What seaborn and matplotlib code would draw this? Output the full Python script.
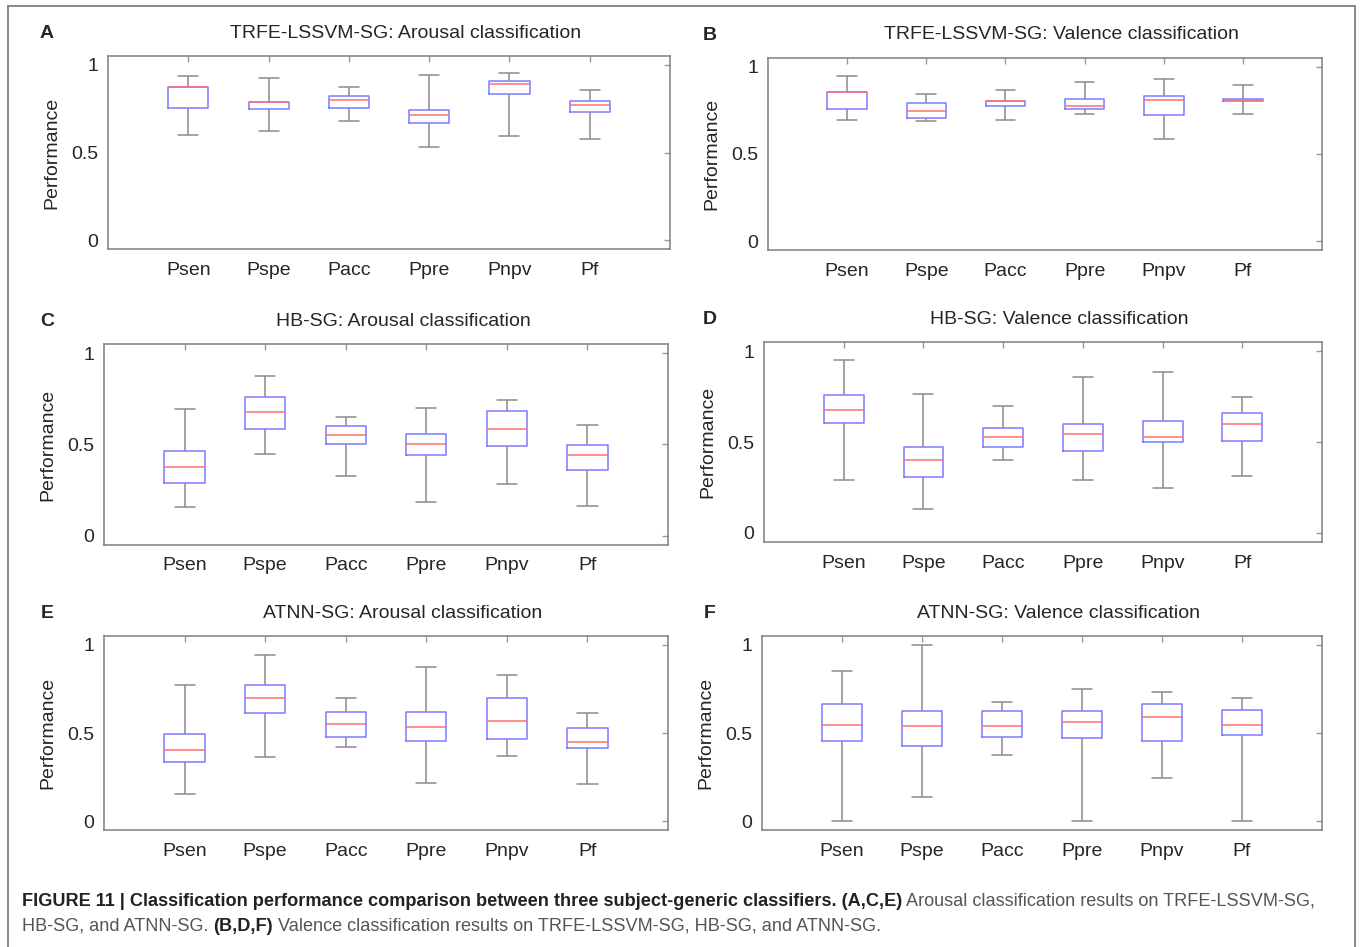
import numpy as np
import pandas as pd
import matplotlib
matplotlib.use("Agg")
import matplotlib.pyplot as plt
import seaborn as sns
from matplotlib.lines import Line2D

# metric names on the x axis
metrics = ["Psen", "Pspe", "Pacc", "Ppre", "Pnpv", "Pf"]

# each box: [lower whisker, q1, median, q3, upper whisker]
trfe_arousal = [[0.600, 0.754, 0.872, 0.872, 0.934],
                [0.624, 0.746, 0.789, 0.789, 0.927],
                [0.677, 0.754, 0.797, 0.820, 0.872],
                [0.532, 0.667, 0.712, 0.744, 0.944],
                [0.592, 0.831, 0.891, 0.908, 0.951],
                [0.575, 0.729, 0.773, 0.795, 0.855]]
trfe_valence = [[0.695, 0.758, 0.853, 0.853, 0.948],
                [0.687, 0.704, 0.748, 0.792, 0.842],
                [0.695, 0.775, 0.802, 0.803, 0.868],
                [0.729, 0.758, 0.775, 0.815, 0.912],
                [0.584, 0.723, 0.809, 0.832, 0.929],
                [0.729, 0.802, 0.809, 0.817, 0.893]]
hb_arousal = [[0.157, 0.291, 0.375, 0.466, 0.693],
              [0.450, 0.583, 0.676, 0.759, 0.876],
              [0.325, 0.501, 0.550, 0.600, 0.649],
              [0.183, 0.441, 0.501, 0.559, 0.700],
              [0.282, 0.492, 0.583, 0.684, 0.742],
              [0.166, 0.358, 0.441, 0.499, 0.607]]
hb_valence = [[0.291, 0.606, 0.676, 0.756, 0.949],
              [0.132, 0.308, 0.399, 0.473, 0.766],
              [0.399, 0.473, 0.526, 0.575, 0.700],
              [0.291, 0.449, 0.542, 0.597, 0.859],
              [0.249, 0.500, 0.526, 0.615, 0.885],
              [0.315, 0.507, 0.597, 0.658, 0.749]]
atnn_arousal = [[0.155, 0.335, 0.403, 0.497, 0.775],
                [0.363, 0.612, 0.698, 0.775, 0.940],
                [0.422, 0.476, 0.552, 0.618, 0.698],
                [0.217, 0.457, 0.535, 0.618, 0.873],
                [0.372, 0.465, 0.567, 0.698, 0.828],
                [0.210, 0.414, 0.448, 0.527, 0.612]]
atnn_valence = [[0.000, 0.453, 0.547, 0.665, 0.852],
                [0.135, 0.427, 0.539, 0.624, 1.000],
                [0.376, 0.478, 0.539, 0.624, 0.674],
                [0.000, 0.470, 0.562, 0.624, 0.751],
                [0.247, 0.453, 0.588, 0.667, 0.734],
                [0.000, 0.487, 0.547, 0.631, 0.700]]

panel_letters = ["A", "B", "C", "D", "E", "F"]
panel_titles = ["TRFE-LSSVM-SG: Arousal classification",
                "TRFE-LSSVM-SG: Valence classification",
                "HB-SG: Arousal classification",
                "HB-SG: Valence classification",
                "ATNN-SG: Arousal classification",
                "ATNN-SG: Valence classification"]
panel_data = [trfe_arousal, trfe_valence, hb_arousal, hb_valence,
              atnn_arousal, atnn_valence]

sns.set_style("white")
plt.rcParams['font.family'] = ['Liberation Sans', 'DejaVu Sans']

W, H = 1360, 947
fig = plt.figure(figsize=(W / 100, H / 100), dpi=100)

# axes boxes in pixels: left, right, top, bottom
ax_px = [(108, 670, 56, 249), (768, 1322, 58, 250),
         (104, 668, 344, 545), (764, 1322, 342, 542),
         (104, 668, 636, 830), (762, 1322, 636, 830)]

BLUE = "#7a7aff"
RED = "#ff7070"
GREY = "#8a8a8a"

for i, (l, r, t, b) in enumerate(ax_px):
    ax = fig.add_axes([l / W, 1 - b / H, (r - l) / W, (b - t) / H])
    rows = []
    for m, vals in zip(metrics, panel_data[i]):
        for v in vals:
            rows.append({"metric": m, "value": v})
    df = pd.DataFrame(rows)
    sns.boxplot(data=df, x="metric", y="value", order=metrics, ax=ax,
                whis=(0, 100), width=0.5, fill=False, color=BLUE,
                linewidth=1.1, showfliers=False,
                medianprops=dict(color=RED, linewidth=1.1),
                whiskerprops=dict(color=GREY, linewidth=1.1),
                capprops=dict(color=GREY, linewidth=1.1))
    ax.set_xlim(-1, 6)
    ax.set_ylim(-0.05, 1.05)
    ax.set_yticks([0, 0.5, 1])
    ax.set_yticklabels(["0", "0.5", "1"])
    ax.set_xlabel("")
    ax.set_ylabel("Performance", fontsize=14, labelpad=8)
    ax.tick_params(direction="in", length=4, width=1, color="#999999",
                   top=True, right=True, labelsize=14, pad=7)
    ax.tick_params(axis="x", pad=9)
    for s in ax.spines.values():
        s.set_visible(True)
        s.set_color("#7f7f7f")
        s.set_linewidth(1.1)
    ax.text(0.53, 1.0 + 23 / (b - t), panel_titles[i], transform=ax.transAxes,
            ha="center", va="center", fontsize=14)
    lx = 47 if i % 2 == 0 else 710
    fig.text(lx / W, 1 - (t - 23) / H, panel_letters[i], fontsize=14,
             fontweight="bold", ha="center", va="center")

# outer frame (left, top, right)
frame = [((8 / W, 8 / W), (0, 1 - 6 / H)),
         ((8 / W, 1355 / W), (1 - 6 / H, 1 - 6 / H)),
         ((1355 / W, 1355 / W), (1 - 6 / H, 0))]
for xs, ys in frame:
    fig.add_artist(Line2D(xs, ys, color="#7f7f7f", linewidth=1.3,
                          transform=fig.transFigure))

# caption with mixed bold / regular runs
caption_lines = [
    [("FIGURE 11 | Classification performance comparison between three "
      "subject-generic classifiers. (A,C,E)", "bold"),
     (" Arousal classification results on TRFE-LSSVM-SG,", "normal")],
    [("HB-SG, and ATNN-SG. ", "normal"), ("(B,D,F)", "bold"),
     (" Valence classification results on TRFE-LSSVM-SG, HB-SG, and ATNN-SG.",
      "normal")],
]
renderer = fig.canvas.get_renderer()
for line, y in zip(caption_lines, [901, 926]):
    x = 22
    for txt, wt in line:
        col = "#222222" if wt == "bold" else "#555555"
        t = fig.text(x / W, 1 - y / H, txt, fontsize=13.1, fontweight=wt,
                     color=col, ha="left", va="center")
        bb = t.get_window_extent(renderer=renderer)
        x += bb.width

fig.savefig("out.png", dpi=100)
